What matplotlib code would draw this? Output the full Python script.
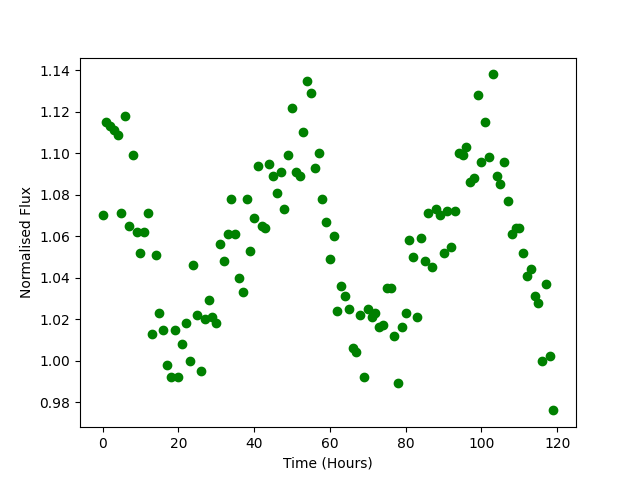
import numpy as np
import matplotlib
matplotlib.use("Agg")
from matplotlib import pyplot as plt

# 时间（小时）
hours = np.arange(120)

# 归一化流量
flux = [
    1.070, 1.115, 1.113, 1.111, 1.109, 1.071, 1.118, 1.065, 1.099, 1.062,
    1.052, 1.062, 1.071, 1.013, 1.051, 1.023, 1.015, 0.998, 0.992, 1.015,
    0.992, 1.008, 1.018, 1.000, 1.046, 1.022, 0.995, 1.020, 1.029, 1.021,
    1.018, 1.056, 1.048, 1.061, 1.078, 1.061, 1.040, 1.033, 1.078, 1.053,
    1.069, 1.094, 1.065, 1.064, 1.095, 1.089, 1.081, 1.091, 1.073, 1.099,
    1.122, 1.091, 1.089, 1.110, 1.135, 1.129, 1.093, 1.100, 1.078, 1.067,
    1.049, 1.060, 1.024, 1.036, 1.031, 1.025, 1.006, 1.004, 1.022, 0.992,
    1.025, 1.021, 1.023, 1.016, 1.017, 1.035, 1.035, 1.012, 0.989, 1.016,
    1.023, 1.058, 1.050, 1.021, 1.059, 1.048, 1.071, 1.045, 1.073, 1.070,
    1.052, 1.072, 1.055, 1.072, 1.100, 1.099, 1.103, 1.086, 1.088, 1.128,
    1.096, 1.115, 1.098, 1.138, 1.089, 1.085, 1.096, 1.077, 1.061, 1.064,
    1.064, 1.052, 1.041, 1.044, 1.031, 1.028, 1.000, 1.037, 1.002, 0.976,
]

fig = plt.figure(figsize=(6.4, 4.8), dpi=100)
plt.plot(hours, flux, 'go')
plt.xlabel('Time (Hours)')
plt.ylabel('Normalised Flux')
plt.savefig('out.png')
